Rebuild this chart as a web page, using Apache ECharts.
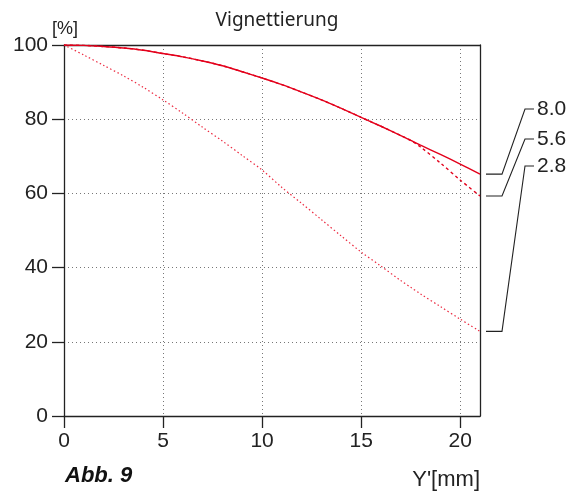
<!DOCTYPE html>
<html>
<head>
<meta charset="utf-8">
<script src="https://cdn.jsdelivr.net/npm/echarts@6/dist/echarts.min.js"></script>
<style>
  html, body { margin: 0; padding: 0; background: #fff; }
  #main { width: 583px; height: 493px; }
</style>
</head>
<body>
<div id="main"></div>
<script>
// image height Y' in mm
let xVals = [0, 1, 2, 3, 4, 5, 6, 7, 8, 9, 10, 11, 12, 13, 14, 15, 16, 17, 17.5, 18, 19, 20, 21];
// relative illumination [%] per aperture
let f80 = [100, 99.9, 99.6, 99.2, 98.6, 97.7, 96.8, 95.7, 94.4, 92.8, 91.1, 89.3, 87.3, 85.2, 82.9, 80.5, 78.1, 75.6, 74.3, 73.0, 70.5, 67.9, 65.2];
let f56 = [100, 99.9, 99.6, 99.2, 98.6, 97.7, 96.8, 95.7, 94.4, 92.8, 91.1, 89.3, 87.3, 85.2, 82.9, 80.5, 78.1, 75.6, 74.3, 72.5, 68.2, 63.6, 59.3];
let f28 = [100, 97.3, 94.5, 91.7, 88.6, 85.2, 81.6, 77.8, 74.1, 70.2, 66.3, 61.6, 57.3, 52.9, 48.5, 44.2, 40.4, 36.5, 34.7, 32.9, 29.5, 26.1, 22.8];
let apertures = ['8.0', '5.6', '2.8'];
let xTicks = [0, 5, 10, 15, 20];

const FONT = '"Liberation Sans", Arial, sans-serif';
const INK = '#222';
const RED = '#e3001b';

function pairs(ys) {
    return xVals.map((x, i) => [x, ys[i]]);
}

let myChart = echarts.init(document.getElementById('main'));

let gridLine = { show: true, lineStyle: { color: '#777', type: [1, 3], width: 1 } };

let option = {
    animation: false,
    backgroundColor: '#fff',
    title: {
        text: 'Vignettierung',
        left: 272, top: 6, textAlign: 'center',
        textStyle: { fontFamily: '"Noto Sans", sans-serif', fontWeight: 'normal', fontSize: 19, color: INK }
    },
    grid: { left: 64, right: 103, top: 45, bottom: 77, outerBoundsMode: 'none' },
    xAxis: [
        {
            type: 'value', min: 0, max: 21,
            axisLine: { onZero: false, lineStyle: { color: INK, width: 1.3 } },
            axisTick: { length: 12, customValues: xTicks, lineStyle: { color: INK, width: 1.3 } },
            axisLabel: { customValues: xTicks, margin: 15, fontFamily: FONT, fontSize: 21, color: INK },
            splitLine: gridLine
        },
        {
            type: 'value', min: 0, max: 21, position: 'top',
            axisLine: { onZero: false, lineStyle: { color: INK, width: 1.3 } },
            axisTick: { show: false }, axisLabel: { show: false }, splitLine: { show: false }
        }
    ],
    yAxis: [
        {
            type: 'value', min: 0, max: 100, interval: 20,
            axisLine: { show: true, onZero: false, lineStyle: { color: INK, width: 1.3 } },
            axisTick: { show: true, length: 12, lineStyle: { color: INK, width: 1.3 } },
            axisLabel: { margin: 16, fontFamily: FONT, fontSize: 21, color: INK },
            splitLine: gridLine
        },
        {
            type: 'value', min: 0, max: 100, position: 'right',
            axisLine: { show: true, onZero: false, lineStyle: { color: INK, width: 1.3 } },
            axisTick: { show: false }, axisLabel: { show: false }, splitLine: { show: false }
        }
    ],
    series: [
        {
            name: apertures[0], type: 'line', data: pairs(f80), smooth: 0.3,
            showSymbol: false, lineStyle: { color: RED, width: 1.4 }, z: 3
        },
        {
            name: apertures[1], type: 'line', data: pairs(f56), smooth: 0.3,
            showSymbol: false, lineStyle: { color: RED, width: 1.4, type: [3, 3] }, z: 2
        },
        {
            name: apertures[2], type: 'line', data: pairs(f28), smooth: 0.3,
            showSymbol: false, lineStyle: { color: '#ec2a40', width: 1.2, type: [1.5, 2.5] }, z: 2
        }
    ]
};
myChart.setOption(option);

// leader lines from the curve ends to the aperture labels
let labelY = [109, 139, 166];
let ends = [f80, f56, f28].map(a => a[a.length - 1]);
let graphics = [];
ends.forEach((v, i) => {
    let p = myChart.convertToPixel({ xAxisIndex: 0, yAxisIndex: 0 }, [21, v]);
    graphics.push({
        type: 'polyline',
        shape: { points: [[486, p[1]], [502, p[1]], [525, labelY[i]], [534, labelY[i]]] },
        style: { stroke: INK, lineWidth: 1.1, fill: null }
    });
    graphics.push({
        type: 'text', x: 537, y: labelY[i],
        style: { text: apertures[i], font: '21px ' + FONT, fill: INK, textVerticalAlign: 'middle' }
    });
});
graphics.push({
    type: 'text', x: 52, y: 29,
    style: { text: '[%]', font: '18px ' + FONT, fill: INK, textVerticalAlign: 'middle' }
});
graphics.push({
    type: 'text', x: 65, y: 476,
    style: { text: 'Abb. 9', font: 'italic bold 22px ' + FONT, fill: '#111', textVerticalAlign: 'middle' }
});
graphics.push({
    type: 'text', x: 480, y: 480,
    style: { text: "Y'[mm]", font: '22px ' + FONT, fill: INK, textAlign: 'right', textVerticalAlign: 'middle' }
});
myChart.setOption({ graphic: graphics });
</script>
</body>
</html>
